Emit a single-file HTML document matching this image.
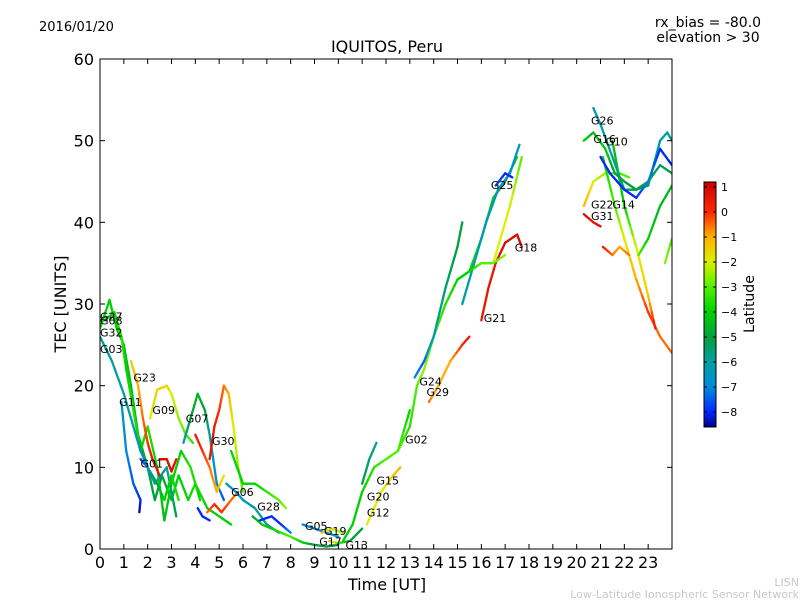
<!DOCTYPE html>
<html><head><meta charset="utf-8"><style>
html,body{margin:0;padding:0;background:#fff;}
svg text{font-family:"DejaVu Sans","Liberation Sans",sans-serif;}
</style></head><body>
<svg id="chart" width="800" height="600" xmlns="http://www.w3.org/2000/svg">
<rect width="800" height="600" fill="#fff"/>
<text x="39" y="31" font-size="13">2016/01/20</text>
<text x="708" y="27" font-size="14" text-anchor="middle">rx_bias = -80.0</text>
<text x="708" y="42" font-size="14" text-anchor="middle">elevation &gt; 30</text>
<text x="387" y="52" font-size="16" text-anchor="middle">IQUITOS, Peru</text>
<g id="plot"></g>
<g id="axes"></g>
<g id="cbar"></g>
<text x="66" y="304" font-size="16" text-anchor="middle" transform="rotate(-90 66 304)">TEC [UNITS]</text>
<text x="387" y="590" font-size="16" text-anchor="middle">Time [UT]</text>
<text x="754" y="304" font-size="14" text-anchor="middle" transform="rotate(-90 754 304)">Latitude</text>
<text x="799" y="586" font-size="11" fill="#c8c8c8" text-anchor="end">LISN</text>
<text x="799" y="598" font-size="11" fill="#c8c8c8" text-anchor="end">Low-Latitude Ionospheric Sensor Network</text>
</svg>
<script>
const xTicks=[0,1,2,3,4,5,6,7,8,9,10,11,12,13,14,15,16,17,18,19,20,21,22,23];
const yTicks=[0,10,20,30,40,50,60];
const cbTicks=[1,0,-1,-2,-3,-4,-5,-6,-7,-8];
// each track: [time, tec, latitude]
const trkG27=[[0,27,-4],[0.4,30.5,-4],[0.7,27,-4],[1,25,-4.5],[1.3,20,-4.5],[1.6,14,-4.5],[2,10,-5],[2.3,6,-5],[2.6,9,-5],[3,6,-4.5],[3.3,9,-4],[3.7,6,-4],[4,8,-3.5],[4.5,5,-4],[5,4,-4],[5.5,3,-4]];
const trkG08=[[0.2,28,-4.5],[0.6,29,-4],[0.9,26,-3.5],[1.1,22,-4],[1.4,17,-3.5],[1.7,12,-4],[2,15,-3.5],[2.4,10,-4],[2.7,3.5,-4.5],[3,8,-4],[3.4,12,-4],[3.8,10,-3.5],[4.2,6,-4]];
const trkG32=[[0,26,-6],[0.5,23,-6],[1,19,-6],[1.3,16,-6],[1.7,12,-6.5],[2,10,-6.5],[2.3,8,-6],[2.8,10,-6],[3.2,4,-5]];
const trkG11=[[0.9,18,-6.5],[1.1,12,-7],[1.4,8,-7.5],[1.7,6,-8],[1.65,4.5,-8.5]];
const trkG23=[[1.3,23,-1.5],[1.6,20,-1],[1.8,16,-0.5],[2,13,0],[2.2,11,0.5],[2.5,9,0.5]];
const trkG09=[[2.1,16,-2],[2.4,19.5,-1.5],[2.8,20,-1.5],[3,19,-2],[3.3,16,-2.5],[3.6,14,-3],[3.9,13,-3.5]];
const trkG01=[[1.7,11,-8],[2,10,-7],[2.4,8,-5],[2.7,6,-4],[3,9,-4],[3.3,6,-3.5]];
const trkG07=[[3.5,13,-6],[3.8,16,-5],[4.1,19,-4.5],[4.4,17,-5],[4.6,14,-6],[4.9,8,-7],[5.2,6,-7.5]];
const trkG30=[[4.6,11,0.5],[4.8,15,0.5],[5,17,0],[5.2,20,-0.5],[5.4,19,-1],[5.6,15,-2],[5.8,10,-2.5],[6,7,-3]];
const trkR1=[[2.5,11,0.8],[2.8,11,0.8],[3,9.5,0.8],[3.2,11,0.5]];
const trkO1=[[4,14,0.5],[4.3,12,0],[4.6,10,-0.5],[4.9,7,-1],[5.2,9,-2]];
const trkB1=[[4.1,5,-8],[4.3,4,-8],[4.6,3.5,-8]];
const trkO2=[[4.5,4.5,-0.5],[4.8,5.5,0],[5.1,4.5,0],[5.5,6,-0.5],[5.8,7,-0.5]];
const trkG06=[[5.3,8,-6],[5.7,7,-7],[6,6,-6.5],[6.5,5,-6],[7,3,-6],[7.5,2,-5.5]];
const trkGr1=[[5.5,12,-4],[6,8,-4],[6.5,8,-4],[7,7,-3.5],[7.5,6,-3],[7.8,5,-2.5]];
const trkG28=[[6.4,4,-5],[6.8,3,-4],[7.2,2.5,-4],[7.6,2,-3.5],[8,1.5,-3],[8.5,0.8,-4],[9,0.5,-5],[9.5,0.3,-5],[10,0.5,-5]];
const trkB2=[[6.7,3.5,-8],[7.2,4,-8],[7.6,3,-8],[8,2,-7]];
const trkG05=[[8.5,3,-7],[9,2.5,-7],[9.5,2,-7],[10,1.5,-6]];
const trkG19=[[9.3,2,-1],[9.7,2.5,-2],[10.2,2,-2.5]];
const trkG13=[[9.6,1,-1],[10,0.7,-3],[10.5,1,-5],[11,2.5,-5]];
const trkG20=[[10.2,1,-4],[10.6,3,-4],[11,7,-4],[11.5,10,-3.5],[12,11,-3],[12.5,12,-3],[13,17,-4]];
const trkG15=[[11,8,-5],[11.3,11,-5.5],[11.6,13,-6]];
const trkG12=[[11.2,3,-2],[11.8,7,-2],[12.3,9,-1.5],[12.6,10,-1]];
const trkG02=[[12.5,12,-3],[13,15,-3.5],[13.3,20,-3],[13.6,22,-2.5],[14,26,-3],[14.5,30,-3.5],[15,33,-4],[15.5,34,-4],[16,38,-3.5],[16.5,43,-4],[17,45,-5],[17.5,48,-4]];
const trkG24=[[13.2,21,-7],[13.6,23,-7.5],[14,26,-6],[14.5,32,-5.5],[15,37,-5],[15.2,40,-5]];
const trkG29=[[13.8,18,-0.5],[14.2,20,-1],[14.7,23,-1],[15.2,25,0],[15.5,26,0.5]];
const trkG25=[[15.2,30,-6],[15.7,35,-6],[16.2,40,-6.5],[16.7,44,-6.5],[17.2,46,-7],[17.6,49.5,-6.5]];
const trkB3=[[16.6,44.5,-7.5],[17,46,-8],[17.3,45.5,-8]];
const trkG21=[[16,28,0.5],[16.3,32,0.5],[16.6,35,0.5],[17,37.5,0.8],[17.5,38.5,0.8],[17.7,37,0.8]];
const trkG18=[[16.5,35,-2],[16.8,38,-2],[17.2,42,-2],[17.7,48,-3]];
const trkGr2=[[15,33,-4],[15.5,34,-4],[16,35,-3],[16.5,35,-3],[17,36,-2.5]];
const trkG22=[[20.3,42,-1],[20.7,45,-2],[21.2,46,-2.5],[21.8,46,-3],[22.2,45.5,-3]];
const trkDec1=[[21.1,48,-4],[21.6,42,-3],[22,38,-2],[22.5,33,-1],[23,29,0],[23.5,26,-0.5],[24,24,-0.5]];
const trkDec2=[[21.5,50,-4.5],[22,42,-4],[22.5,37,-2],[23,31,-1.5],[23.3,27,0.5]];
const trkG31=[[20.3,41,0.8],[20.7,40,0.5],[21,39.5,0.8]];
const trkG26=[[20.7,54,-6.5],[21,52,-6],[21.5,48,-6],[22,44,-5.5],[22.5,44,-5],[23,44.5,-5],[23.5,50,-6.5],[23.8,51,-6],[24,50,-6]];
const trkG16=[[20.3,50,-4],[20.7,51,-4.5],[21.2,49,-4],[21.6,46,-5],[22,45,-5],[22.5,44,-5],[23,45,-5],[23.5,47,-5.5],[24,46,-5]];
const trkG10=[[21,48,-8],[21.4,46,-8],[22,44,-8],[22.5,43,-8],[23,45,-7],[23.5,49,-8],[24,47,-8]];
const trkRise=[[22.6,36,-3],[23,38,-4],[23.5,42,-4.5],[24,44.5,-4.5]];
const trkOr3=[[21.1,37,0.5],[21.5,36,-0.5],[21.8,37,-1],[22.2,36,-0.5]];
const trkYg=[[23.7,35,-2.5],[24,38,-3]];
const tracks=[trkG27,trkG08,trkG32,trkG11,trkG23,trkG09,trkG01,trkG07,trkG30,trkR1,trkO1,trkB1,trkO2,trkG06,trkGr1,trkG28,trkB2,trkG05,trkG19,trkG13,trkG20,trkG15,trkG12,trkG02,trkG24,trkG29,trkG25,trkB3,trkG21,trkG18,trkGr2,trkG22,trkDec1,trkDec2,trkG31,trkG26,trkG16,trkG10,trkRise,trkOr3,trkYg];
const satNames=["G27","G08","G32","G03","G23","G11","G09","G07","G30","G01","G06","G28","G05","G19","G17","G13","G20","G15","G12","G02","G24","G29","G25","G18","G21","G26","G16","G10","G22","G14","G31"];
const satTimes=[0,0,0,0,1.4,0.8,2.2,3.6,4.7,1.7,5.5,6.6,8.6,9.4,9.2,10.3,11.2,11.6,11.2,12.8,13.4,13.7,16.4,17.4,16.1,20.6,20.7,21.2,20.6,21.5,20.6];
const satTec=[28.5,28,26.5,24.5,21,18,17,16,13.2,10.5,7,5.2,2.8,2.2,0.9,0.5,6.4,8.4,4.5,13.4,20.5,19.2,44.6,36.9,28.3,52.5,50.2,49.9,42.2,42.2,40.8];

const SVGNS="http://www.w3.org/2000/svg";
const X0=100,X1=672,Y0=549,Y1=59;
function sx(t){return X0+t*(X1-X0)/24;}
function sy(v){return Y0-v*(Y0-Y1)/60;}
const cMin=-8.6,cMax=1.2,CBT=182,CBB=427;
function cy(l){return CBB-(l-cMin)*(CBB-CBT)/(cMax-cMin);}
const stops=[[-8.6,[0,0,140]],[-8,[0,40,255]],[-7,[0,140,220]],[-6,[0,160,160]],[-5,[0,160,60]],[-4,[0,210,0]],[-3,[80,240,0]],[-2,[220,240,0]],[-1,[255,176,0]],[0,[255,40,0]],[1.2,[200,0,0]]];
function col(l){
  if(l<=stops[0][0])return "rgb("+stops[0][1]+")";
  for(let i=1;i<stops.length;i++){
    if(l<=stops[i][0]){const a=stops[i-1],b=stops[i];const f=(l-a[0])/(b[0]-a[0]);
      const c=a[1].map((v,k)=>Math.round(v+(b[1][k]-v)*f));return "rgb("+c.join(",")+")";}
  }
  return "rgb("+stops[stops.length-1][1]+")";
}
function mk(tag,attrs,parent){const e=document.createElementNS(SVGNS,tag);for(const k in attrs)e.setAttribute(k,attrs[k]);parent.appendChild(e);return e;}
const plot=document.getElementById('plot');
const cp=mk('clipPath',{id:'clip'},plot);mk('rect',{x:X0,y:Y1,width:X1-X0,height:Y0-Y1},cp);
const lines=mk('g',{'clip-path':'url(#clip)'},plot);
tracks.forEach((tr,ti)=>{
  const g=mk('g',{},lines);
  
  
  for(let i=1;i<tr.length;i++){
    const a=tr[i-1],b=tr[i];const n=4;
    for(let j=0;j<n;j++){
      const f0=j/n,f1=(j+1)/n;
      const t0=a[0]+(b[0]-a[0])*f0,t1=a[0]+(b[0]-a[0])*f1;
      const v0=a[1]+(b[1]-a[1])*f0,v1=a[1]+(b[1]-a[1])*f1;
      const l=a[2]+(b[2]-a[2])*(f0+f1)/2;
      const s=mk('line',{x1:sx(t0),y1:sy(v0),x2:sx(t1),y2:sy(v1),stroke:col(l),'stroke-width':2.3,'stroke-linecap':'round'},g);
      
      
    }
  }
});
satNames.forEach((nm,i)=>{
  const t=mk('text',{x:sx(satTimes[i]),y:sy(satTec[i])+4,'font-size':11,fill:'#000'},plot);
  t.textContent=nm;
  
  
});
const axes=document.getElementById('axes');
const fr=mk('rect',{x:X0,y:Y1,width:X1-X0,height:Y0-Y1,fill:'none',stroke:'#000','stroke-width':1},axes);


xTicks.forEach(t=>{
  const x=sx(t);
  mk('line',{x1:x,y1:Y0,x2:x,y2:Y0-5,stroke:'#000'},axes);
  mk('line',{x1:x,y1:Y1,x2:x,y2:Y1+5,stroke:'#000'},axes);
  const tx=mk('text',{x:x,y:Y0+19,'font-size':16,'text-anchor':'middle'},axes);
  tx.textContent=t;
  
  
});
yTicks.forEach(v=>{
  const y=sy(v);
  mk('line',{x1:X0,y1:y,x2:X0+5,y2:y,stroke:'#000'},axes);
  mk('line',{x1:X1,y1:y,x2:X1-5,y2:y,stroke:'#000'},axes);
  const tx=mk('text',{x:X0-6,y:y+6,'font-size':16,'text-anchor':'end'},axes);
  tx.textContent=v;
  
  
});
const cb=document.getElementById('cbar');
for(let y=CBT;y<CBB;y++){
  const l=cMax-(y+0.5-CBT)*(cMax-cMin)/(CBB-CBT);
  mk('rect',{x:704,y:y,width:12,height:1.2,fill:col(l)},cb);
}
const cbf=mk('rect',{x:704,y:CBT,width:12,height:CBB-CBT,fill:'none',stroke:'#000'},cb);


cbTicks.forEach(v=>{
  const y=cy(v);
  mk('line',{x1:704,y1:y,x2:707,y2:y,stroke:'#000'},cb);
  mk('line',{x1:716,y1:y,x2:713,y2:y,stroke:'#000'},cb);
  const tx=mk('text',{x:721,y:y+4,'font-size':11},cb);
  tx.textContent=v<0?'\u2212'+(-v):v;
  
  
});
</script>
</body></html>
